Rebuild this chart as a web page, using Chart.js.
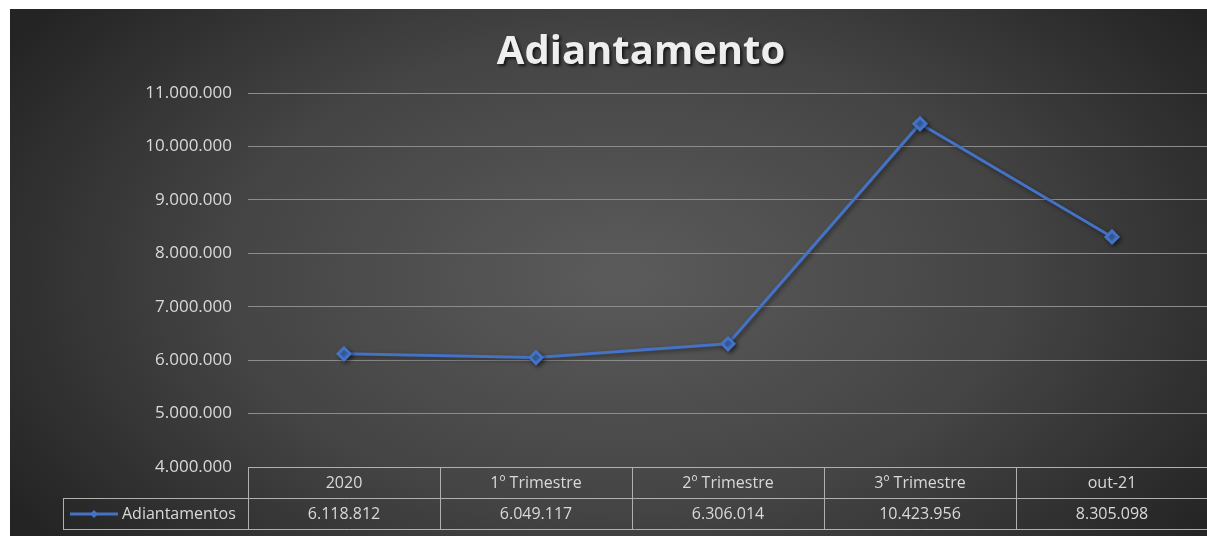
<!DOCTYPE html>
<html lang="pt-BR">
<head>
<meta charset="UTF-8">
<title>Adiantamento</title>
<script src="https://cdn.jsdelivr.net/npm/chart.js"></script>
<style>
  html, body { margin: 0; padding: 0; background: #fff; overflow: hidden; }
  #wrap { position: relative; width: 1218px; height: 536px; }
</style>
</head>
<body>
<div id="wrap"><canvas id="chart"></canvas></div>
<script>
const chartTitle = 'Adiantamento';
const categories = ['2020', '1º Trimestre', '2º Trimestre', '3º Trimestre', 'out-21'];
const seriesName = 'Adiantamentos';
const adiantamentos = [6118812, 6049117, 6306014, 10423956, 8305098];
const yMin = 4000000;
const yMax = 11000000;
const yStep = 1000000;

// pt-BR style thousands separator
function fmt(n) {
    return Math.round(n).toString().replace(/\B(?=(\d{3})+(?!\d))/g, '.');
}

const blue = '#4472C4';
const textGray = '#d9d9d9';
const lineGray = '#b0b0b0';

// dark radial background with white margin on top/left
const backgroundPlugin = {
    id: 'bg',
    beforeDraw(chart) {
        const ctx = chart.ctx;
        const w = chart.width, h = chart.height;
        ctx.save();
        ctx.fillStyle = '#ffffff';
        ctx.fillRect(0, 0, w, h);
        ctx.beginPath();
        ctx.rect(10, 9, w - 10, h - 9);
        ctx.clip();
        ctx.translate(620, 275);
        ctx.scale(720, 430);
        const g = ctx.createRadialGradient(0, 0, 0, 0, 0, 1);
        g.addColorStop(0, '#5b5b5b');
        g.addColorStop(0.55, '#444444');
        g.addColorStop(1, '#242424');
        ctx.fillStyle = g;
        ctx.fillRect(-2, -2, 4, 4);
        ctx.restore();
    }
};

// soft shadow under the line
const shadowPlugin = {
    id: 'lineShadow',
    beforeDatasetsDraw(chart) {
        const ctx = chart.ctx;
        ctx.save();
        ctx.shadowColor = 'rgba(0,0,0,0.45)';
        ctx.shadowBlur = 4;
        ctx.shadowOffsetX = 2;
        ctx.shadowOffsetY = 2;
    },
    afterDatasetsDraw(chart) {
        chart.ctx.restore();
    }
};

// title + data table under the plot
const tablePlugin = {
    id: 'dataTable',
    afterDraw(chart) {
        const ctx = chart.ctx;
        const ca = chart.chartArea;
        const xs = chart.scales.x;
        const n = categories.length;
        const colW = (ca.right - ca.left) / n;
        const top = ca.bottom;
        const mid = top + 31;
        const bot = mid + 31;
        const legendLeft = 63;
        const px = v => Math.round(v) + 0.5;

        ctx.save();
        // title
        ctx.font = 'bold 40px "Open Sans"';
        ctx.textAlign = 'center';
        ctx.textBaseline = 'alphabetic';
        ctx.shadowColor = 'rgba(0,0,0,0.7)';
        ctx.shadowBlur = 3;
        ctx.shadowOffsetX = 2;
        ctx.shadowOffsetY = 2;
        ctx.fillStyle = '#eeeeee';
        ctx.fillText(chartTitle, 641, 64);
        ctx.restore();

        ctx.save();
        ctx.strokeStyle = lineGray;
        ctx.lineWidth = 1;
        ctx.beginPath();
        ctx.moveTo(ca.left, px(top)); ctx.lineTo(ca.right, px(top));
        ctx.moveTo(legendLeft, px(mid)); ctx.lineTo(ca.right, px(mid));
        ctx.moveTo(legendLeft, px(bot)); ctx.lineTo(ca.right, px(bot));
        for (let i = 0; i <= n; i++) {
            const x = px(ca.left + i * colW);
            ctx.moveTo(x, px(top)); ctx.lineTo(x, px(bot));
        }
        ctx.moveTo(px(legendLeft), px(mid)); ctx.lineTo(px(legendLeft), px(bot));
        ctx.stroke();

        ctx.font = '16px "Open Sans"';
        ctx.fillStyle = textGray;
        ctx.textAlign = 'center';
        ctx.textBaseline = 'middle';
        categories.forEach((c, i) => {
            ctx.fillText(c, xs.getPixelForValue(i), (top + mid) / 2 + 1);
        });
        adiantamentos.forEach((v, i) => {
            ctx.fillText(fmt(v), xs.getPixelForValue(i), (mid + bot) / 2 + 1);
        });

        // legend key
        const ky = (mid + bot) / 2 + 0.5;
        ctx.strokeStyle = blue;
        ctx.lineWidth = 3;
        ctx.beginPath();
        ctx.moveTo(70, ky); ctx.lineTo(118, ky);
        ctx.stroke();
        ctx.fillStyle = blue;
        ctx.beginPath();
        ctx.moveTo(94, ky - 4); ctx.lineTo(98, ky); ctx.lineTo(94, ky + 4); ctx.lineTo(90, ky);
        ctx.closePath();
        ctx.fill();
        ctx.fillStyle = textGray;
        ctx.textAlign = 'left';
        ctx.fillText(seriesName, 122, ky + 0.5);
        ctx.restore();
    }
};

new Chart(document.getElementById('chart'), {
    type: 'line',
    data: {
        labels: categories,
        datasets: [{
            label: seriesName,
            data: adiantamentos,
            borderColor: blue,
            borderWidth: 3,
            pointStyle: 'rectRot',
            pointRadius: 6,
            pointHoverRadius: 7,
            pointBackgroundColor: blue,
            pointBorderColor: blue,
            tension: 0
        }]
    },
    options: {
        responsive: true,
        maintainAspectRatio: false,
        animation: false,
        layout: {
            padding: { top: 93, bottom: 69, left: 0, right: 0 }
        },
        scales: {
            x: {
                type: 'category',
                offset: true,
                display: false
            },
            y: {
                min: yMin,
                max: yMax,
                afterFit(scale) { scale.width = 248; },
                border: { display: false },
                grid: {
                    color: '#8c8c8c',
                    lineWidth: 1,
                    drawTicks: false
                },
                ticks: {
                    stepSize: yStep,
                    padding: 16,
                    color: textGray,
                    font: { family: 'Open Sans', size: 17 },
                    callback: v => fmt(v)
                }
            }
        },
        plugins: {
            legend: { display: false },
            title: { display: false },
            tooltip: { callbacks: { label: c => seriesName + ': ' + fmt(c.parsed.y) } }
        }
    },
    plugins: [backgroundPlugin, shadowPlugin, tablePlugin]
});
</script>
</body>
</html>
